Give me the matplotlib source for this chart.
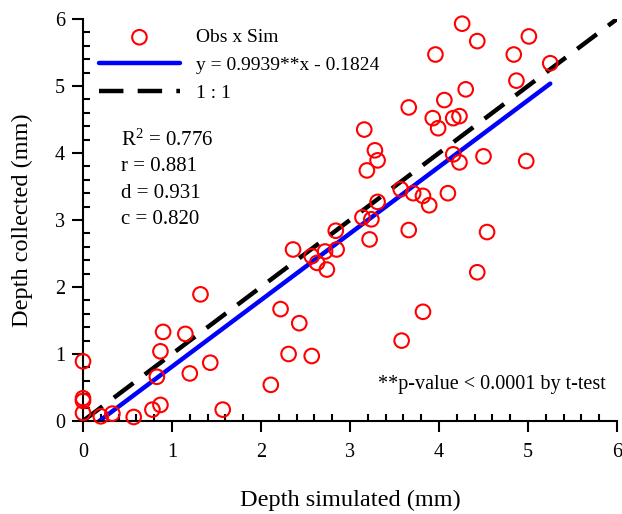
import matplotlib
matplotlib.use("Agg")
import matplotlib.pyplot as plt
from matplotlib.ticker import MultipleLocator
import numpy as np

plt.rcParams['font.family'] = ['Liberation Serif', 'DejaVu Serif']
plt.rcParams['mathtext.fontset'] = 'custom'
plt.rcParams['mathtext.rm'] = 'Liberation Serif'
plt.rcParams['mathtext.it'] = 'Liberation Serif:italic'

# Data
sim = [0.00, 0.00, 0.00, 0.00, 0.20, 0.33, 0.57, 0.78, 0.87, 0.83,
       0.87, 0.90, 1.15, 1.20, 1.43, 1.32, 1.57, 2.11, 2.31, 2.57,
       2.22, 2.43, 2.36, 2.57, 2.63, 2.72, 2.74, 2.84, 2.85, 3.14,
       3.24, 3.22, 3.31, 3.16, 3.28, 3.31, 3.19, 3.57, 3.71, 3.82,
       3.89, 3.66, 3.58, 3.82, 3.66, 3.93, 3.99, 4.06, 4.16, 4.23,
       4.16, 4.23, 4.50, 4.10, 4.54, 4.43, 4.98, 4.30, 3.96, 4.26,
       4.43, 4.84, 4.87, 5.01, 5.25]
obs = [0.89, 0.34, 0.30, 0.12, 0.07, 0.11, 0.06, 0.17, 0.24, 0.66,
       1.04, 1.33, 1.30, 0.71, 0.87, 1.89, 0.17, 0.54, 1.00, 0.97,
       1.67, 1.46, 2.56, 2.46, 2.36, 2.53, 2.26, 2.84, 2.56, 3.04,
       3.01, 2.71, 3.27, 4.35, 4.04, 3.89, 3.74, 3.46, 3.40, 3.36,
       3.22, 2.85, 1.20, 1.63, 4.68, 4.52, 4.37, 4.79, 4.52, 4.55,
       3.98, 3.86, 3.95, 3.40, 2.82, 2.22, 3.88, 4.95, 5.47, 5.93,
       5.67, 5.47, 5.08, 5.74, 5.34]

slope = 0.9939
intercept = -0.1824
stats_labels = ["R$^{2}$ = 0.776", "r = 0.881", "d = 0.931", "c = 0.820"]
legend_labels = ["Obs x Sim", "y = 0.9939**x - 0.1824", "1 : 1"]
pvalue_text = "**p-value < 0.0001 by t-test"
xlabel = "Depth simulated (mm)"
ylabel = "Depth collected (mm)"

fig = plt.figure(figsize=(6.22, 5.14), dpi=100)
ax = fig.add_axes([83/622, 1 - 421/514, 534/622, 402/514])

sc = ax.scatter(sim, obs, s=110, facecolors='none', edgecolors='#ff0000',
                linewidths=1.5, zorder=3, clip_on=False)

x0 = -intercept / slope
x1 = max(sim)
xr = np.array([x0, x1])
l1, = ax.plot(xr, slope * xr + intercept, color='#0000ff', lw=3.2, zorder=2,
              solid_capstyle='round')
l2, = ax.plot([0, 6], [0, 6], color='black', lw=3.2, ls=(0, (5.5, 3.2)), zorder=2)

ax.set_xlim(0, 6)
ax.set_ylim(0, 6)
for s in ['top', 'right']:
    ax.spines[s].set_visible(False)
for s in ['left', 'bottom']:
    ax.spines[s].set_linewidth(1.5)
ax.xaxis.set_major_locator(MultipleLocator(1))
ax.yaxis.set_major_locator(MultipleLocator(1))
ax.xaxis.set_minor_locator(MultipleLocator(0.2))
ax.yaxis.set_minor_locator(MultipleLocator(0.2))
ax.tick_params(which='major', direction='out', length=8, width=1.5, labelsize=14.5)
ax.tick_params(axis='x', which='major', pad=8)
ax.tick_params(axis='y', which='major', pad=5)
ax.tick_params(which='minor', direction='in', length=5, width=1.5)

ax.set_xlabel(xlabel, fontsize=17.5, labelpad=20)
ax.set_ylabel(ylabel, fontsize=17.5, labelpad=16)

leg = ax.legend([sc, l1, l2], legend_labels, loc='upper left',
                bbox_to_anchor=(0.011, 1.0), frameon=False, fontsize=14,
                handlelength=4.2, labelspacing=0.52, borderpad=0.0,
                handletextpad=0.8, scatterpoints=1)

ys = [0.699, 0.634, 0.567, 0.5]
for t, y in zip(stats_labels, ys):
    ax.text(0.071, y, t, transform=ax.transAxes, fontsize=15, va='center', ha='left')

ax.text(0.978, 0.09, pvalue_text, transform=ax.transAxes, fontsize=14.5,
        va='center', ha='right')

fig.savefig("out.png", dpi=100)
